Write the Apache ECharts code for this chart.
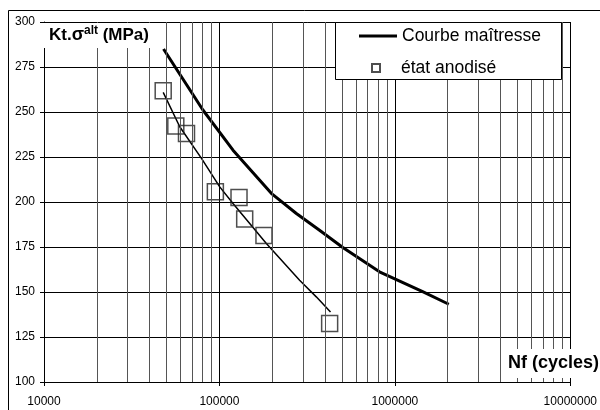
<!DOCTYPE html>
<html><head><meta charset="utf-8">
<script src="https://cdn.jsdelivr.net/npm/echarts@6/dist/echarts.min.js"></script>
<style>html,body{margin:0;padding:0;background:#fff}#c{width:600px;height:410px}</style>
</head><body><div id="c"></div>
<script>
// Master curve (Courbe maîtresse)
const masterN = [48000, 80500, 119500, 197500, 274500, 372000, 505000, 817000, 1440000, 2030000];
const masterS = [285.0, 251.1, 228.8, 204.8, 193.6, 184.3, 174.7, 161.2, 150.2, 143.2];
// Anodised specimens (état anodisé)
const anodN = [47800, 56400, 64900, 94800, 129300, 139300, 179400, 424800];
const anodS = [261.8, 242.2, 238.1, 205.7, 202.5, 190.6, 181.4, 132.5];
// Trend line through anodised points
const fitN = [47800, 59400, 79000, 100400, 119500, 148800, 185100, 286400, 356500, 429700];
const fitS = [260.9, 241.8, 224.2, 208.4, 199.2, 188.1, 176.9, 156.5, 147.3, 138.9];
// Axis ticks
const xMajor = [10000, 100000, 1000000, 10000000];
const xMinorGrid = [20000, 30000, 40000, 50000, 60000, 70000, 80000, 90000,
  200000, 300000, 400000, 500000, 600000, 700000, 800000, 900000,
  2000000, 3000000, 4000000, 5000000, 6000000, 7000000, 8000000, 9000000];
const yMin = 100, yMax = 300, yStep = 25;
const names = { master: 'Courbe maîtresse', anod: 'état anodisé' };

const FONT = 'Liberation Sans, Arial, sans-serif';
const pair = (a, b) => a.map((v, i) => [v, b[i]]);

const chart = echarts.init(document.getElementById('c'), null, { renderer: 'canvas' });
chart.setOption({
  animation: false,
  backgroundColor: '#fff',
  textStyle: { fontFamily: FONT },
  grid: { left: 44, right: 29, top: 22, bottom: 28, containLabel: false },
  xAxis: {
    type: 'log', logBase: 10, min: xMajor[0], max: xMajor[xMajor.length - 1],
    axisLine: { show: true, lineStyle: { color: '#000', width: 1 } },
    axisTick: { show: true, length: 4, lineStyle: { color: '#000' } },
    axisLabel: { color: '#000', fontSize: 12, fontFamily: FONT, margin: 14,
      formatter: v => String(Math.round(v)) },
    splitLine: { show: true, lineStyle: { color: '#000', width: 1 } },
    minorTick: { show: false }, minorSplitLine: { show: false }
  },
  yAxis: {
    type: 'value', min: yMin, max: yMax, interval: yStep,
    axisLine: { show: true, lineStyle: { color: '#000', width: 1 } },
    axisTick: { show: true, length: 4, lineStyle: { color: '#000' } },
    axisLabel: { color: '#000', fontSize: 12, fontFamily: FONT, margin: 9 },
    splitLine: { show: true, lineStyle: { color: '#000', width: 1 } }
  },
  legend: [
    { data: [{ name: names.master, icon: 'rect' }], left: 359, top: 27, padding: 0,
      itemWidth: 38, itemHeight: 3, selectedMode: false, z: 60,
      itemStyle: { color: '#000' },
      textStyle: { fontSize: 17.5, color: '#000', fontFamily: FONT } },
    { data: [names.anod], left: 371, top: 59, padding: 0, itemWidth: 8, itemHeight: 8,
      selectedMode: false, z: 60,
      textStyle: { fontSize: 17.5, color: '#000', fontFamily: FONT, padding: [0, 0, 0, 16] } }
  ],
  graphic: [
    { type: 'rect', z: 0, silent: true,
      shape: { x: 8.5, y: 10.5, width: 700, height: 500 },
      style: { fill: 'none', stroke: '#000', lineWidth: 1 } },
    { type: 'rect', z: 50, silent: true,
      shape: { x: 335.5, y: 22.5, width: 226, height: 57 },
      style: { fill: '#fff', stroke: '#000', lineWidth: 1 } },
    { type: 'text', z: 50, silent: true, x: 44, y: 23,
      style: {
        text: '{b|Kt.}{s|σ}{p|alt}{b| (MPa)}',
        align: 'left', verticalAlign: 'top',
        backgroundColor: '#fff', padding: [2, 5, 2, 5],
        rich: {
          b: { fontSize: 17, fontWeight: 'bold', fontFamily: FONT, fill: '#000', lineHeight: 21, verticalAlign: 'middle' },
          s: { fontSize: 18, fontWeight: 'bold', fontFamily: FONT, fill: '#000', lineHeight: 21, verticalAlign: 'middle' },
          p: { fontSize: 12, fontWeight: 'bold', fontFamily: FONT, fill: '#000', lineHeight: 21, verticalAlign: 'top' }
        }
      } },
    { type: 'text', z: 50, silent: true, x: 504, y: 349,
      style: {
        text: 'Nf (cycles)', fontSize: 18, fontWeight: 'bold', fontFamily: FONT, fill: '#000',
        align: 'left', verticalAlign: 'top', backgroundColor: '#fff', padding: [5, 4, 6, 4]
      } }
  ],
  series: [
    { name: names.master, type: 'line', data: pair(masterN, masterS),
      showSymbol: false, symbol: 'none', smooth: false, z: 3,
      lineStyle: { color: '#000', width: 3 }, itemStyle: { color: '#000' },
      markLine: {
        silent: true, symbol: ['none', 'none'], label: { show: false },
        lineStyle: { color: '#555', type: 'solid', width: 1 },
        data: xMinorGrid.map(v => ({ xAxis: v }))
      } },
    { name: 'fit', type: 'line', data: pair(fitN, fitS),
      showSymbol: false, symbol: 'none', smooth: false, z: 3,
      lineStyle: { color: '#000', width: 1.5 } },
    { name: names.anod, type: 'scatter', data: pair(anodN, anodS),
      symbol: 'rect', symbolSize: 16, z: 4,
      itemStyle: { color: 'rgba(0,0,0,0)', borderColor: '#222', borderWidth: 1.5 } }
  ]
});
</script></body></html>
